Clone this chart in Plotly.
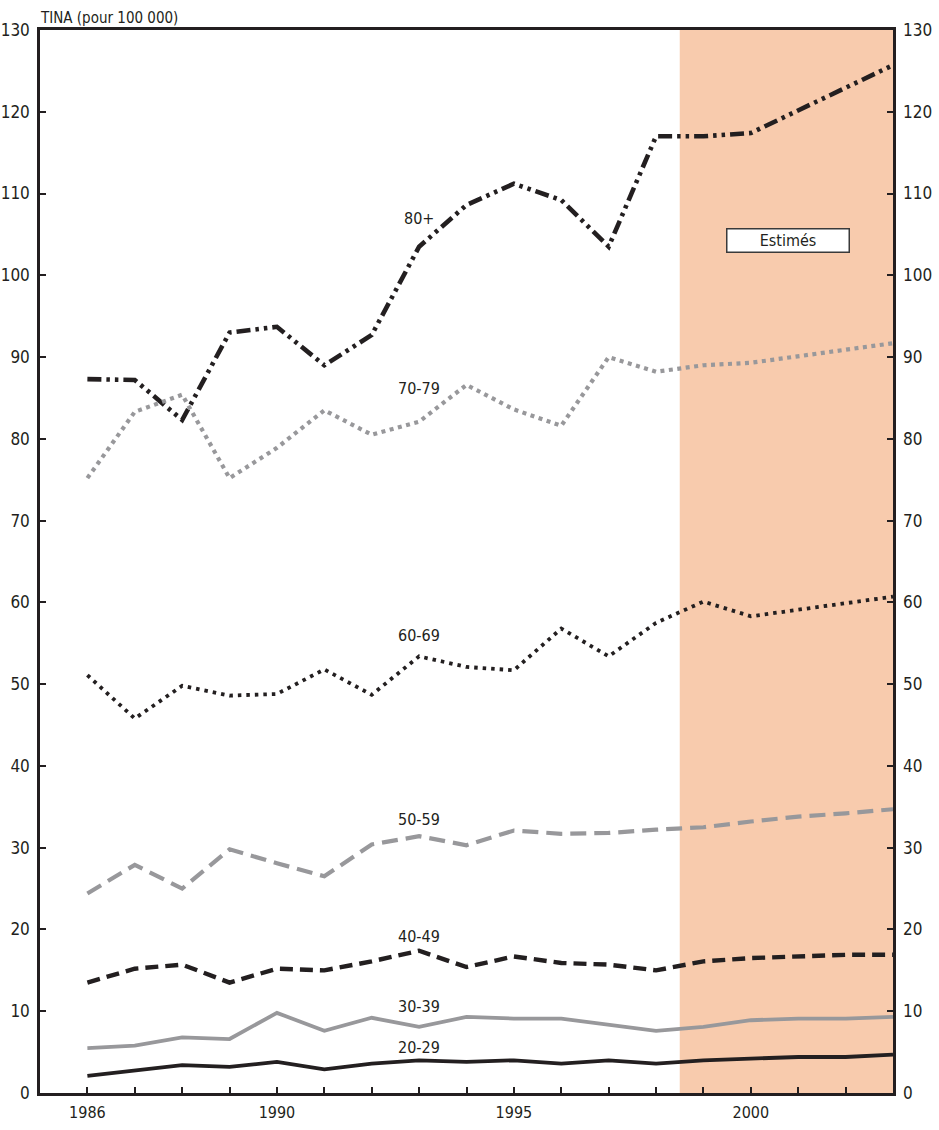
import plotly.graph_objects as go

years = list(range(1986, 2004))

v_80 = [87.3, 87.2, 82.3, 93.0, 93.7, 89.0, 92.7, 103.5, 108.6, 111.2, 109.2, 103.5, 117.0, 117.0, 117.4, 120.2, 123.0, 125.7]
v_70 = [75.2, 83.3, 85.4, 75.2, 78.9, 83.5, 80.5, 82.1, 86.6, 83.6, 81.6, 90.0, 88.2, 89.0, 89.3, 90.1, 90.9, 91.7]
v_60 = [51.1, 45.8, 49.8, 48.6, 48.8, 51.8, 48.7, 53.4, 52.1, 51.7, 56.8, 53.4, 57.5, 60.1, 58.3, 59.1, 59.9, 60.7]
v_50 = [24.4, 27.9, 25.0, 29.8, 28.1, 26.5, 30.4, 31.4, 30.3, 32.1, 31.7, 31.8, 32.2, 32.5, 33.2, 33.8, 34.2, 34.7]
v_40 = [13.5, 15.2, 15.7, 13.5, 15.2, 15.0, 16.1, 17.4, 15.4, 16.7, 15.9, 15.7, 15.0, 16.1, 16.5, 16.7, 16.9, 16.9]
v_30 = [5.5, 5.8, 6.8, 6.6, 9.8, 7.6, 9.2, 8.1, 9.3, 9.1, 9.1, 8.4, 7.6, 8.1, 8.9, 9.1, 9.1, 9.3]
v_20 = [2.1, 2.8, 3.4, 3.2, 3.8, 2.9, 3.6, 4.0, 3.8, 4.0, 3.6, 4.0, 3.6, 4.0, 4.2, 4.4, 4.4, 4.7]

series_names = ["80+", "70-79", "60-69", "50-59", "40-49", "30-39", "20-29"]
series_values = [v_80, v_70, v_60, v_50, v_40, v_30, v_20]
label_y = [107.0, 86.1, 55.9, 33.4, 19.1, 10.6, 5.6]

x_ticks = list(range(1986, 2003))
x_labels = {1986: "1986", 1990: "1990", 1995: "1995", 2000: "2000"}
y_ticks = list(range(0, 131, 10))

BLACK = "#231f20"
GRAY = "#98989b"
styles = [
    dict(color=BLACK, width=4.6, dash="14px,5px,3.5px,5px,3.5px,5px"),
    dict(color=GRAY, width=4.2, dash="4px,4.5px"),
    dict(color=BLACK, width=3.8, dash="3.5px,5px"),
    dict(color=GRAY, width=4.2, dash="16px,8px"),
    dict(color=BLACK, width=4.4, dash="13px,7px"),
    dict(color=GRAY, width=3.8),
    dict(color=BLACK, width=3.8),
]

FONT = "DejaVu Sans Condensed, DejaVu Sans, sans-serif"

fig = go.Figure()
for name, vals, st in zip(series_names, series_values, styles):
    fig.add_trace(go.Scatter(x=years, y=vals, mode="lines", name=name,
                             line=st, showlegend=False, hoverinfo="skip"))
# invisible trace on the right axis so it is drawn
fig.add_trace(go.Scatter(x=years, y=v_20, yaxis="y2", mode="lines",
                         line=dict(width=0, color="rgba(0,0,0,0)"),
                         showlegend=False, hoverinfo="skip"))

fig.add_shape(type="rect", xref="x", yref="paper", x0=1998.5, x1=2003, y0=0, y1=1,
              fillcolor="#f8cbad", line=dict(width=0), layer="below")

for name, ly in zip(series_names, label_y):
    fig.add_annotation(x=1993, y=ly, text=name, showarrow=False, yanchor="middle",
                       font=dict(family=FONT, size=16, color=BLACK))

fig.add_annotation(x=2000.78, y=104.3, text="Estimés", showarrow=False,
                   font=dict(family=FONT, size=16, color=BLACK),
                   bgcolor="white", bordercolor="#3a3a3a", borderwidth=1.5,
                   width=119, height=20)

fig.add_annotation(xref="paper", yref="paper", x=0, y=1, xanchor="left", yanchor="bottom",
                   yshift=1, xshift=-2, text="TINA (pour 100 000)", showarrow=False,
                   font=dict(family=FONT, size=15, color=BLACK))

fig.update_layout(
    width=939, height=1130,
    margin=dict(l=40, r=46, t=30, b=37, autoexpand=False),
    plot_bgcolor="white", paper_bgcolor="white",
    font=dict(family=FONT, size=16, color=BLACK),
    xaxis=dict(range=[1985, 2003], tickvals=x_ticks,
               ticktext=[x_labels.get(t, "") for t in x_ticks],
               ticks="inside", ticklen=6, tickwidth=2, tickcolor=BLACK,
               showline=True, linecolor=BLACK, linewidth=2.5, mirror=True,
               showgrid=False, zeroline=False, tickfont=dict(size=16),
               automargin=False, ticklabelstandoff=3),
    yaxis=dict(range=[0, 130], tickvals=y_ticks, ticks="inside", ticklen=6,
               tickwidth=2, tickcolor=BLACK, showline=True, linecolor=BLACK,
               linewidth=2.5, mirror="ticks", showgrid=False, zeroline=False,
               tickfont=dict(size=17), ticklabelstandoff=4, automargin=False),
    yaxis2=dict(range=[0, 130], tickvals=y_ticks, overlaying="y", side="right",
                ticks="", showline=False, showgrid=False, zeroline=False,
                tickfont=dict(size=17), ticklabelstandoff=9, automargin=False),
)

fig.write_html("out.html", config={"displayModeBar": False},
               post_script="document.body.style.margin='0';")
